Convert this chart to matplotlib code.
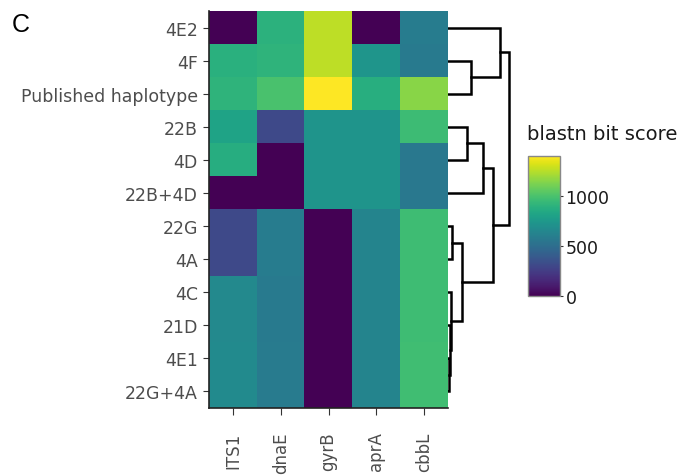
import numpy as np
import matplotlib.pyplot as plt

rows = ['4E2', '4F', 'Published haplotype', '22B', '4D', '22B+4D',
        '22G', '4A', '4C', '21D', '4E1', '22G+4A']
genes = ['ITS1', 'dnaE', 'gyrB', 'aprA', 'cbbL']

# blastn bit scores, one list per gene (rows in the order above)
its1 = [0, 890, 910, 810, 870, 0, 310, 310, 660, 660, 670, 670]
dnae = [900, 910, 1000, 310, 0, 0, 590, 590, 575, 575, 585, 585]
gyrb = [1260, 1260, 1400, 725, 725, 725, 0, 0, 0, 0, 0, 0]
apra = [0, 730, 880, 725, 725, 725, 630, 630, 630, 630, 630, 630]
cbbl = [590, 570, 1150, 960, 560, 560, 965, 965, 965, 965, 970, 970]

# row dendrogram: (left child, right child, height); leaves are 0..11
merges = [(1, 2, 23), (0, 12, 52), (3, 4, 19), (14, 5, 35), (6, 7, 4),
          (10, 11, 1), (9, 17, 1.5), (8, 18, 3), (16, 19, 14),
          (15, 20, 45), (13, 21, 61)]

scores = np.array([its1, dnae, gyrb, apra, cbbl]).T
vmax = 1400
grey = '#4d4d4d'

fig = plt.figure(figsize=(6.94, 4.77), dpi=100)
W, H = 694, 477


def box(x0, y0, x1, y1):
    return [x0 / W, 1 - y1 / H, (x1 - x0) / W, (y1 - y0) / H]


ax = fig.add_axes(box(209, 12, 448, 409))
im = ax.imshow(scores, cmap='viridis', vmin=0, vmax=vmax, aspect='auto',
               interpolation='nearest')
ax.set_xticks(range(len(genes)))
ax.set_xticklabels(genes, rotation=90, fontsize=12, color=grey)
ax.set_yticks(range(len(rows)))
ax.set_yticklabels(rows, fontsize=12.5, color=grey)
ax.tick_params(axis='y', length=4, width=0.8, color='#333333', pad=4)
ax.tick_params(axis='x', length=5, width=0.8, color='#333333', pad=12)
for s in ['top', 'right']:
    ax.spines[s].set_visible(False)
for s in ['left', 'bottom']:
    ax.spines[s].set_linewidth(1.2)
    ax.spines[s].set_color('#222222')

# dendrogram
dax = fig.add_axes(box(448, 12, 520, 409))
pos = {i: (0.0, float(i)) for i in range(len(rows))}
for k, (a, b, h) in enumerate(merges):
    xa, ya = pos[a]
    xb, yb = pos[b]
    dax.plot([xa, h, h, xb], [ya, ya, yb, yb], color='black', lw=1.8,
             solid_joinstyle='miter')
    pos[len(rows) + k] = (h, (ya + yb) / 2)
dax.set_ylim(len(rows) - 0.5, -0.5)
dax.set_xlim(0, 72)
dax.axis('off')

# colorbar
cax = fig.add_axes(box(528, 157, 560, 297))
cb = fig.colorbar(im, cax=cax, ticks=[0, 500, 1000])
cb.outline.set_edgecolor('#888888')
cb.outline.set_linewidth(1)
cax.tick_params(length=2, width=0.8, color='#333333', labelsize=12.5,
                labelcolor='#1a1a1a', pad=2)
fig.text(527 / W, 1 - 135 / H, 'blastn bit score', fontsize=14,
         color='#1a1a1a', ha='left', va='center')

fig.text(12 / W, 1 - 25 / H, 'C', fontsize=18, family='Liberation Sans',
         ha='left', va='center')

fig.savefig('out.png', dpi=100)
